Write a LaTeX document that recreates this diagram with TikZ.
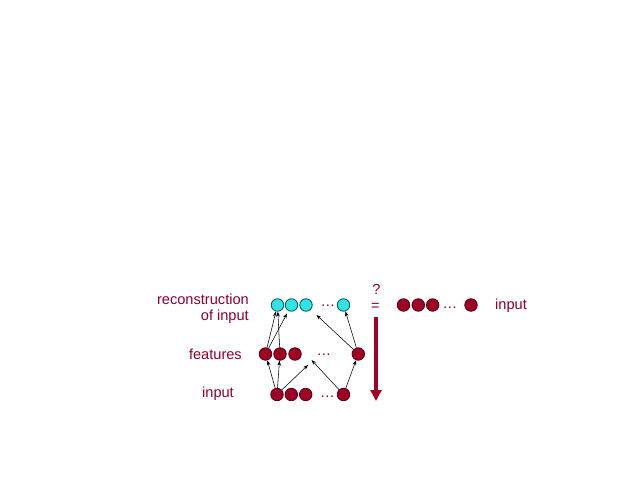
\documentclass[tikz,border=0pt]{standalone}
\usepackage{fontspec}
\setmainfont{Liberation Sans}
\usetikzlibrary{arrows.meta}
\definecolor{rfill}{RGB}{160,0,36}
\definecolor{rline}{RGB}{80,0,20}
\definecolor{cfill}{RGB}{51,226,226}
\definecolor{cline}{RGB}{0,90,100}
\definecolor{txt}{RGB}{140,0,40}
\begin{document}
\begin{tikzpicture}[x=1pt,y=-1pt,
  unitr/.style={circle,draw=rline,fill=rfill,line width=0.8pt,minimum size=12.5pt,inner sep=0pt},
  unitc/.style={circle,draw=cline,fill=cfill,line width=0.8pt,minimum size=12.5pt,inner sep=0pt},
  lbl/.style={text=txt,font=\fontsize{14.6}{17}\selectfont,inner sep=0pt},
  dts/.style={text=txt,font=\fontsize{14.6}{17}\selectfont,inner sep=0pt,anchor=base},
  arr/.style={-{Stealth[length=5pt,width=3.6pt]},line width=0.55pt,black},
  big/.style={-{Triangle[length=11pt,width=11pt]},line width=4pt,rfill}]
\useasboundingbox (0,0) rectangle (638,479);
% top row (reconstruction)
\node[unitc] (t1) at (277.5,305) {};
\node[unitc] (t2) at (291.5,305) {};
\node[unitc] (t3) at (306,305) {};
\node[unitc] (t4) at (343.5,305) {};
\node[dts] (td) at (328,306) {…};
% features
\node[unitr] (f1) at (265.5,354) {};
\node[unitr] (f2) at (280,354) {};
\node[unitr] (f3) at (295,354) {};
\node[unitr] (f4) at (358.3,354) {};
\node[dts] (fd) at (324,355) {…};
% input
\node[unitr] (i1) at (277,394.5) {};
\node[unitr] (i2) at (291.3,394.5) {};
\node[unitr] (i3) at (305.7,394.5) {};
\node[unitr] (i4) at (343.5,394.5) {};
\node[dts] (id) at (327.5,397) {…};
% right input row
\node[unitr] (r1) at (403.5,305) {};
\node[unitr] (r2) at (418.3,305) {};
\node[unitr] (r3) at (432.7,305) {};
\node[unitr] (r4) at (471,305) {};
\node[dts] (rd) at (450,308) {…};
% labels
\node[lbl,anchor=base east] (l1) at (249,304) {reconstruction};
\node[lbl,anchor=base east] (l2) at (249,320.5) {of input};
\node[lbl,anchor=base east] (l3) at (242,359.5) {features};
\node[lbl,anchor=base east] (l4) at (234,397.5) {input};
\node[lbl,anchor=base west] (l5) at (495,309.5) {input};
\node[lbl,anchor=base] (q) at (376.5,294) {?};
\node[lbl,anchor=base] (eq) at (375.5,310) {=};
% arrow end coordinates
\coordinate (c1) at (308,365);
\coordinate (c2) at (311.5,360);
\coordinate (c3) at (316.5,315);
\coordinate (a1) at (376,317);
\coordinate (a2) at (376,401);
% connectors
\draw[arr] (i1) -- (f1);
\draw[arr] (i1) -- (f2);
\draw[arr] (i1) -- (c1);
\draw[arr] (i4) -- (f4);
\draw[arr] (i4) -- (c2);
\draw[arr] (f1) -- (t1);
\draw[arr,shorten >=3pt] (f1) -- (t2);
\draw[arr] (f2) -- (t1);
\draw[arr] (f4) -- (t4);
\draw[arr] (f4) -- (c3);
\draw[big] (a1) -- (a2);
\end{tikzpicture}
\end{document}
